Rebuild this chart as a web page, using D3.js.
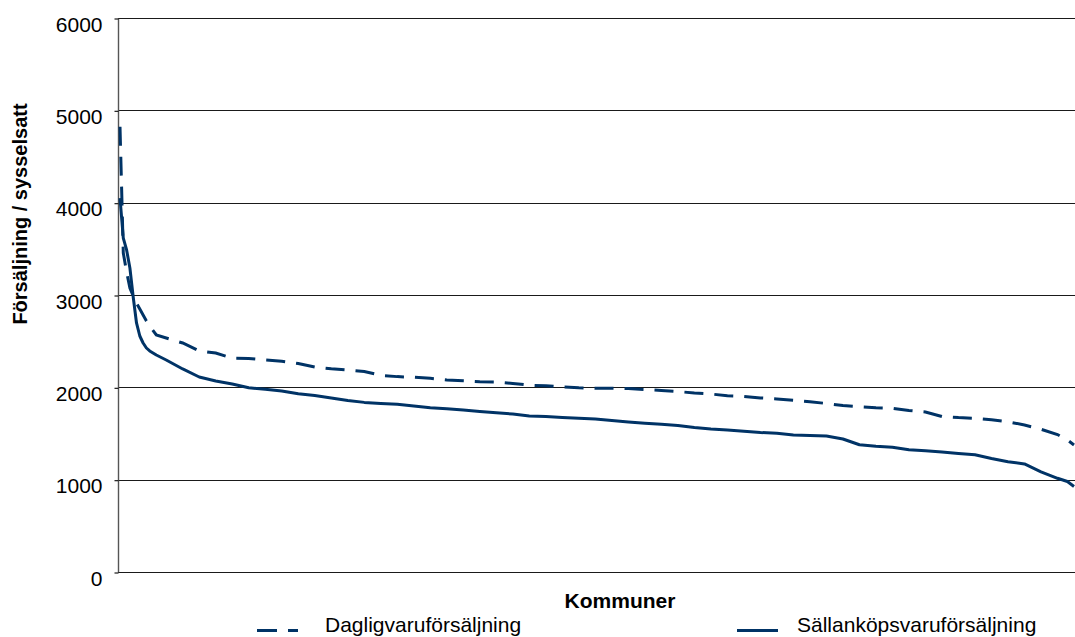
<!DOCTYPE html>
<html>
<head>
<meta charset="utf-8">
<script src="https://cdn.jsdelivr.net/npm/d3@7"></script>
<style>
  html, body { margin: 0; padding: 0; background: #fff; }
  svg { display: block; font-family: Arial, "Liberation Sans", sans-serif; }
</style>
</head>
<body>
<svg id="chart" width="1075" height="637"></svg>
<script>
// Kommuner sorted by sales per employee (rank 1 = highest)
const kommunRank = [1,2,3,4,5,6,7,8,9,10,12,15,
  20,25,30,35,40,45,50,55,60,65,70,75,80,85,90,95,100,
  105,110,115,120,125,130,135,140,145,150,155,160,165,170,175,180,
  185,190,195,200,205,210,215,220,225,230,235,240,245,250,255,260,
  265,270,275,280,285,288,290];

const dagligvaror = [4823,3455,3250,3076,2990,2913,2848,2783,2718,2664,2567,2534,
  2480,2394,2372,2315,2312,2296,2282,2258,2220,2201,2188,2172,2130,2116,2109,2098,2079,
  2071,2061,2058,2042,2023,2017,2004,1995,1990,1990,1987,1977,1966,1954,1939,1928,
  1908,1902,1885,1874,1860,1844,1825,1803,1790,1778,1773,1749,1733,1684,1672,1665,
  1648,1627,1592,1546,1489,1430,1375];

const sallankop = [4050,3617,3488,3292,2978,2697,2556,2480,2426,2394,2350,2296,
  2199,2112,2069,2036,1996,1979,1960,1930,1912,1885,1857,1837,1825,1816,1798,1778,1769,
  1755,1739,1724,1711,1690,1683,1674,1665,1657,1641,1625,1612,1600,1587,1565,1549,
  1538,1524,1511,1502,1484,1478,1473,1440,1378,1362,1351,1325,1312,1299,1283,1270,
  1229,1195,1170,1085,1015,980,926];

const yTicks = [0, 1000, 2000, 3000, 4000, 5000, 6000];
const seriesNames = ["Dagligvaruförsäljning", "Sällanköpsvaruförsäljning"];
const xTitle = "Kommuner";
const yTitle = "Försäljning / sysselsatt";

const lineColor = "#003366";
const svg = d3.select("#chart");

const plot = { left: 118, right: 1075, top: 18, bottom: 572 };
const x = d3.scaleLinear().domain([1, 290]).range([120, 1074]);
const y = d3.scaleLinear().domain([0, 6000]).range([plot.bottom, plot.top]);

// horizontal gridlines
svg.append("g").selectAll("line").data(yTicks).join("line")
  .attr("x1", plot.left).attr("x2", plot.right)
  .attr("y1", d => Math.round(y(d)) + 0.5).attr("y2", d => Math.round(y(d)) + 0.5)
  .attr("stroke", "#1a1a1a").attr("stroke-width", 1.2);

// value axis with outward ticks
const yAxis = d3.axisLeft(y).tickValues(yTicks).tickSize(4).tickPadding(12).tickFormat(d3.format("d"));
const gy = svg.append("g").attr("transform", `translate(${plot.left + 0.5},0.5)`).call(yAxis);
gy.select(".domain").attr("stroke", "#555").attr("stroke-width", 1.4)
  .attr("d", `M0,${plot.top}V${plot.bottom}`);
gy.selectAll(".tick line").attr("stroke", "#1a1a1a").attr("stroke-width", 1.2);
gy.selectAll(".tick text")
  .attr("font-size", 21).attr("fill", "#000")
  .attr("font-family", "Arial, 'Liberation Sans', sans-serif")
  .attr("dy", "0.6em").attr("x", -16);

const pts = (vals) => kommunRank.map((r, i) => [r, vals[i]]);
const line = d3.line().x(d => x(d[0])).y(d => y(d[1]));

svg.append("path").datum(pts(dagligvaror))
  .attr("d", line).attr("fill", "none")
  .attr("stroke", lineColor).attr("stroke-width", 3)
  .attr("stroke-dasharray", "19,11");

svg.append("path").datum(pts(sallankop))
  .attr("d", line).attr("fill", "none")
  .attr("stroke", lineColor).attr("stroke-width", 3)
  .attr("stroke-linejoin", "round");

// axis titles
svg.append("text").text(xTitle)
  .attr("x", 620).attr("y", 608).attr("text-anchor", "middle")
  .attr("font-size", 21).attr("font-weight", "bold").attr("fill", "#000");

svg.append("text").text(yTitle)
  .attr("transform", "translate(27,214) rotate(-90)")
  .attr("text-anchor", "middle")
  .attr("font-size", 20).attr("font-weight", "bold").attr("fill", "#000");

// legend
const legend = [
  { name: seriesNames[0], sx: 257, tx: 325, dash: "20,11" },
  { name: seriesNames[1], sx: 737, tx: 797, dash: null }
];
const lg = svg.append("g").selectAll("g").data(legend).join("g");
lg.append("line")
  .attr("x1", d => d.sx).attr("x2", d => d.sx + 41)
  .attr("y1", 630.5).attr("y2", 630.5)
  .attr("stroke", lineColor).attr("stroke-width", 3)
  .attr("stroke-dasharray", d => d.dash);
lg.append("text").text(d => d.name)
  .attr("x", d => d.tx).attr("y", 632)
  .attr("font-size", 21).attr("fill", "#000");
</script>
</body>
</html>
